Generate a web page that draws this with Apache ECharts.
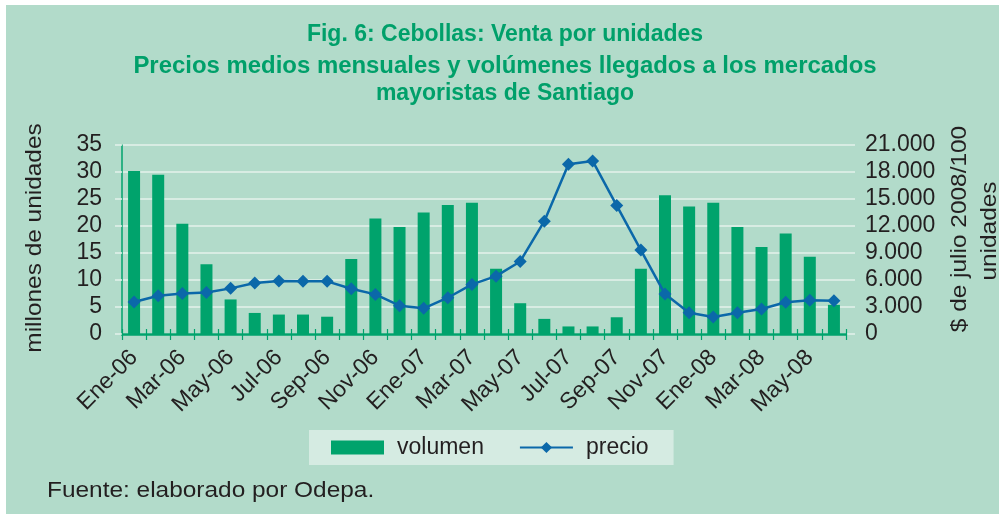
<!DOCTYPE html>
<html>
<head>
<meta charset="utf-8">
<script src="https://cdn.jsdelivr.net/npm/echarts@6/dist/echarts.min.js"></script>
<style>
html, body { margin: 0; padding: 0; background: #fff; }
#chart { width: 999px; height: 514px; background: #b2dbca; box-shadow: inset 6px 5px 0 #fff; }
</style>
</head>
<body>
<div id="chart"></div>
<script>
// meses Ene-06 .. Jun-08
const meses = ['Ene-06', 'Feb-06', 'Mar-06', 'Abr-06', 'May-06', 'Jun-06', 'Jul-06', 'Ago-06', 'Sep-06', 'Oct-06', 'Nov-06', 'Dic-06',
  'Ene-07', 'Feb-07', 'Mar-07', 'Abr-07', 'May-07', 'Jun-07', 'Jul-07', 'Ago-07', 'Sep-07', 'Oct-07', 'Nov-07', 'Dic-07',
  'Ene-08', 'Feb-08', 'Mar-08', 'Abr-08', 'May-08', 'Jun-08']
// millones de unidades
const volumen = [30.2, 29.5, 20.4, 12.9, 6.4, 3.9, 3.6, 3.6, 3.2, 13.9, 21.4, 19.8,
  22.5, 23.9, 24.3, 12.1, 5.7, 2.8, 1.4, 1.4, 3.1, 12.1, 25.7, 23.6,
  24.3, 19.8, 16.1, 18.6, 14.3, 5.4]
// $ de julio 2008 / 100 unidades
const precio = [3550, 4250, 4500, 4600, 5070, 5660, 5880, 5850, 5850, 5030, 4400, 3140,
  2850, 4030, 5510, 6430, 8060, 12540, 18860, 19230, 14270, 9320, 4440, 2370,
  1890, 2370, 2770, 3520, 3740, 3700]
const ejeVolumen = { min: 0, max: 35, interval: 5 }
const ejePrecio = { min: 0, max: 21000, interval: 3000 }

const titulo = ['Fig. 6: Cebollas: Venta por unidades',
  'Precios medios mensuales y volúmenes llegados a los mercados',
  'mayoristas de Santiago']

const verde = '#00a36c'
const azul = '#0b68a9'
const texto = '#231f20'
const fuente = '"Liberation Sans", Arial, sans-serif'

const miles = v => String(v).replace(/\B(?=(\d{3})+(?!\d))/g, '.')

const myChart = echarts.init(document.getElementById('chart'))
const option = {
  animation: false,
  textStyle: { fontFamily: fuente, color: texto },
  grid: { left: 122, right: 153, top: 145, bottom: 180 },
  legend: {
    left: 309,
    top: 430,
    padding: [6, 25, 6, 22],
    backgroundColor: '#d5ebe2',
    itemWidth: 53,
    itemHeight: 14,
    itemGap: 35,
    textStyle: { fontSize: 23, color: texto, fontFamily: fuente, padding: [0, 0, 0, 8] },
    data: [{ name: 'volumen', icon: 'rect' }, { name: 'precio' }]
  },
  xAxis: [
    {
      type: 'category',
      data: meses,
      axisLine: { lineStyle: { color: verde, width: 2.5 } },
      axisTick: { show: true, interval: 0, length: 6, lineStyle: { color: verde, width: 1.2 } },
      axisLabel: {
        interval: 1,
        rotate: 45,
        margin: 20,
        fontSize: 23,
        color: texto,
        fontFamily: fuente
      }
    },
    {
      type: 'category',
      data: meses,
      position: 'bottom',
      axisLine: { show: false },
      axisTick: { show: true, inside: true, interval: 0, length: 5, lineStyle: { color: verde, width: 1.2 } },
      axisLabel: { show: false }
    }
  ],
  yAxis: [
    {
      type: 'value',
      min: ejeVolumen.min,
      max: ejeVolumen.max,
      interval: ejeVolumen.interval,
      axisLine: { show: true, lineStyle: { color: verde, width: 1.5 } },
      axisTick: { show: true, length: 7, lineStyle: { color: '#e4f2eb', width: 1.5 } },
      axisLabel: { margin: 20, fontSize: 23, color: texto, fontFamily: fuente },
      splitLine: { show: true, lineStyle: { color: '#e4f2eb', width: 1.5 } }
    },
    {
      type: 'value',
      min: ejePrecio.min,
      max: ejePrecio.max,
      interval: ejePrecio.interval,
      axisLine: { show: false },
      axisTick: { show: true, length: 9, lineStyle: { color: '#e4f2eb', width: 1.5 } },
      axisLabel: { margin: 19, fontSize: 23, color: texto, fontFamily: fuente, formatter: miles },
      splitLine: { show: false }
    }
  ],
  series: [
    {
      name: 'volumen',
      type: 'bar',
      data: volumen,
      barWidth: 12,
      itemStyle: { color: verde }
    },
    {
      name: 'precio',
      type: 'line',
      yAxisIndex: 1,
      data: precio,
      symbol: 'diamond',
      symbolSize: 13,
      lineStyle: { color: azul, width: 2.5 },
      itemStyle: { color: azul }
    }
  ],
  graphic: [
    ...titulo.map((t, i) => ({
      type: 'text',
      x: 505,
      y: [35, 66.5, 94][i],
      scaleX: i === 1 ? 1.04 : 1,
      style: {
        text: t,
        fill: '#00a06a',
        font: 'bold 23px ' + fuente,
        align: 'center',
        verticalAlign: 'middle'
      }
    })),
    {
      type: 'text',
      x: 35,
      y: 238,
      rotation: Math.PI / 2,
      scaleX: 1.11,
      style: { text: 'millones de unidades', fill: texto, font: '22px ' + fuente, align: 'center', verticalAlign: 'middle' }
    },
    {
      type: 'text',
      x: 960,
      y: 229,
      rotation: Math.PI / 2,
      scaleX: 1.11,
      style: { text: '$ de julio 2008/100', fill: texto, font: '22px ' + fuente, align: 'center', verticalAlign: 'middle' }
    },
    {
      type: 'text',
      x: 990,
      y: 231,
      rotation: Math.PI / 2,
      scaleX: 1.11,
      style: { text: 'unidades', fill: texto, font: '22px ' + fuente, align: 'center', verticalAlign: 'middle' }
    },
    {
      type: 'text',
      x: 47,
      y: 491,
      scaleX: 1.11,
      style: { text: 'Fuente: elaborado por Odepa.', fill: texto, font: '22px ' + fuente, align: 'left', verticalAlign: 'middle' }
    }
  ]
}
myChart.setOption(option)
</script>
</body>
</html>
